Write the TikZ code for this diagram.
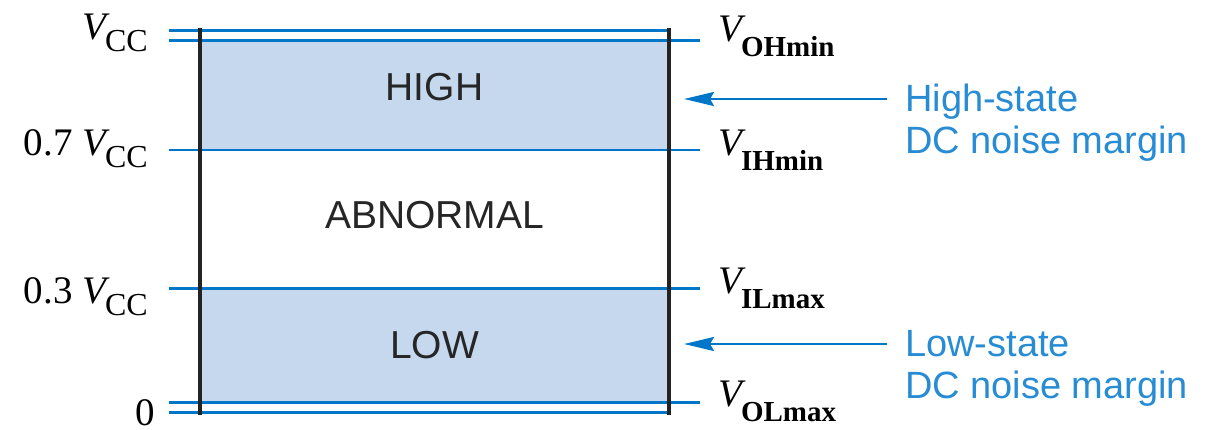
\documentclass[tikz,border=0pt]{standalone}
\usepackage{fontspec}
\setmainfont{Liberation Serif}
\newfontfamily\labelsans{Liberation Sans}
\usetikzlibrary{arrows.meta}
\definecolor{levelblue}{RGB}{0,118,200}
\definecolor{notetext}{RGB}{40,140,212}
\definecolor{bandfill}{RGB}{197,216,238}
\definecolor{railgray}{RGB}{35,35,35}
\newcommand{\volt}[1]{{\fontsize{39}{39}\selectfont\itshape V}\kern-1pt{\fontsize{32}{32}\selectfont\raisebox{-12pt}{#1}}}
\newcommand{\voltb}[1]{{\fontsize{39}{39}\selectfont\itshape V}\kern-1pt{\fontsize{29}{29}\selectfont\bfseries\raisebox{-15pt}{#1}}}
\tikzset{
  level/.style={draw=levelblue, line width=2.6pt},
  rail/.style={draw=railgray, line width=3.6pt},
  band/.style={fill=bandfill, draw=none},
  region/.style={font=\labelsans\fontsize{39}{39}\selectfont, inner sep=0pt, text=black!85},
  lbl/.style={inner sep=0pt},
  note/.style={font=\labelsans\fontsize{38}{42}\selectfont, text=notetext, align=left, inner sep=0pt},
  margin/.style={draw=levelblue, line width=2.6pt, -{Stealth[length=30pt,width=14pt,inset=4pt]}}
}
\begin{document}
\begin{tikzpicture}[x=1pt, y=-1pt]
\useasboundingbox (0,0) rectangle (1217,429);
% shaded logic bands
\fill[band] (200,40.3) rectangle (669,150);
\fill[band] (200,288.3) rectangle (669,402.7);
% voltage levels
\draw[level] (169,30.7) -- (669,30.7);
\draw[level] (169,40.3) -- (700,40.3);
\draw[level] (169,150) -- (700,150);
\draw[level] (169,288.3) -- (700,288.3);
\draw[level] (169,402.7) -- (700,402.7);
\draw[level] (169,412.3) -- (669,412.3);
% supply rails
\draw[rail] (200,27.7) -- (200,415);
\draw[rail] (669,27.7) -- (669,415);
% region names
\node[region, anchor=base] (high) at (434.5,100) {HIGH};
\node[region, anchor=base] (abn) at (434.7,228.3) {ABNORMAL};
\node[region, anchor=base] (low) at (434.5,358) {LOW};
% input-side voltages
\node[lbl, anchor=base east] (vcc) at (148,39.3) {\volt{CC}};
\node[lbl, anchor=base east] (v07) at (148,155.7) {{\fontsize{39}{39}\selectfont 0.7 }\volt{CC}};
\node[lbl, anchor=base east] (v03) at (148,303.3) {{\fontsize{39}{39}\selectfont 0.3 }\volt{CC}};
\node[lbl, anchor=base east] (v0) at (155,425) {\fontsize{39}{39}\selectfont 0};
% output/input thresholds
\node[lbl, anchor=base west] (voh) at (718,41.7) {\voltb{OHmin}};
\node[lbl, anchor=base west] (vih) at (718,155) {\voltb{IHmin}};
\node[lbl, anchor=base west] (vil) at (718,293) {\voltb{ILmax}};
\node[lbl, anchor=base west] (vol) at (718,406) {\voltb{OLmax}};
% noise margins
\node[note, anchor=base west] (hnm) at (905,153.3) {High-state\\DC noise margin};
\node[note, anchor=base west] (lnm) at (905,398) {Low-state\\DC noise margin};
\coordinate (hTail) at (887,99);
\coordinate (hTip) at (684,99);
\coordinate (lTail) at (887,344);
\coordinate (lTip) at (684,344);
\draw[margin] (hTail) -- (hTip);
\draw[margin] (lTail) -- (lTip);
\end{tikzpicture}
\end{document}
